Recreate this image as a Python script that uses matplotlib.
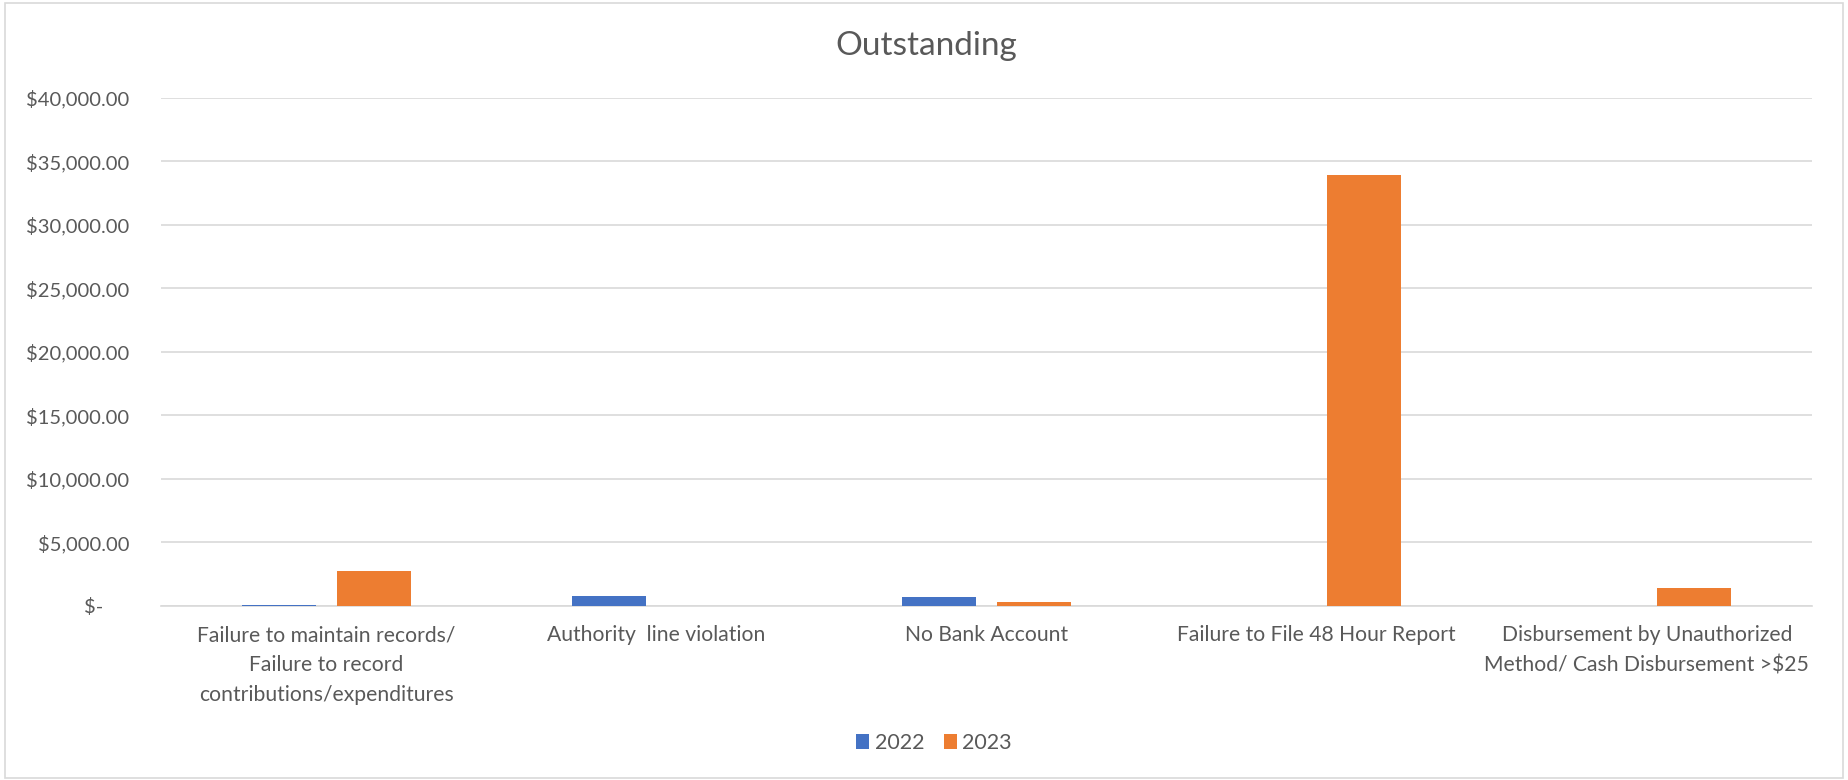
import matplotlib
matplotlib.use("Agg")
import matplotlib.pyplot as plt
from matplotlib.patches import Rectangle
from matplotlib.ticker import FuncFormatter, MultipleLocator
import numpy as np

plt.rcParams['font.family'] = ['Lato', 'DejaVu Sans']

categories = [
    "Failure to maintain records/\nFailure to record\ncontributions/expenditures",
    "Authority  line violation",
    "No Bank Account",
    "Failure to File 48 Hour Report",
    "Disbursement by Unauthorized\nMethod/ Cash Disbursement >$25",
]
series_names = ["2022", "2023"]
values_2022 = [50, 800, 700, 0, 0]
values_2023 = [2700, 0, 300, 33900, 1400]
colors = ["#4472C4", "#ED7D31"]

W, H = 1849, 780
fig = plt.figure(figsize=(W / 100, H / 100), dpi=100)
fig.patch.set_facecolor("white")
fig.add_artist(Rectangle((5 / W, 2 / H), 1 - 11 / W, 1 - 5 / H, transform=fig.transFigure,
                         fill=False, edgecolor="#d9d9d9", linewidth=1.2))

ax = fig.add_axes([161 / W, 174.3 / H, (1812 - 161) / W, (682 - 174.3) / H])
x = np.arange(len(categories))
bw = 0.224
off = 0.144
ax.bar(x - off, values_2022, bw, color=colors[0], label=series_names[0], zorder=3)
ax.bar(x + off, values_2023, bw, color=colors[1], label=series_names[1], zorder=3)

ax.set_xlim(-0.5, len(categories) - 0.5)
ax.set_ylim(0, 40000)
ax.yaxis.set_major_locator(MultipleLocator(5000))


def fmt(v, pos):
    if v == 0:
        return "$-     "
    return "${:,.2f}".format(v)


ax.yaxis.set_major_formatter(FuncFormatter(fmt))
ax.grid(axis="y", color="#d9d9d9", linewidth=1.2, zorder=0)
for s in ["top", "right", "left"]:
    ax.spines[s].set_visible(False)
ax.spines["bottom"].set_color("#d9d9d9")
ax.spines["bottom"].set_linewidth(1.2)
ax.set_xticks(x)
ax.set_xticklabels(categories, fontsize=15.2, color="#595959", linespacing=1.62)
ax.tick_params(axis="x", length=0, pad=14)
ax.tick_params(axis="y", length=0, pad=23, labelsize=14.5, labelcolor="#595959")

fig.text(0.5008, 1 - 46 / H, "Outstanding", ha="center", va="center", fontsize=24, color="#595959")

fig.legend(loc="center", bbox_to_anchor=(934 / W, 1 - 743 / H), ncol=2, frameon=False,
           fontsize=15.5, labelcolor="#595959", handlelength=0.6, handleheight=0.7,
           handletextpad=0.25, columnspacing=0.9)

fig.savefig("out.png", dpi=100, facecolor="white")
